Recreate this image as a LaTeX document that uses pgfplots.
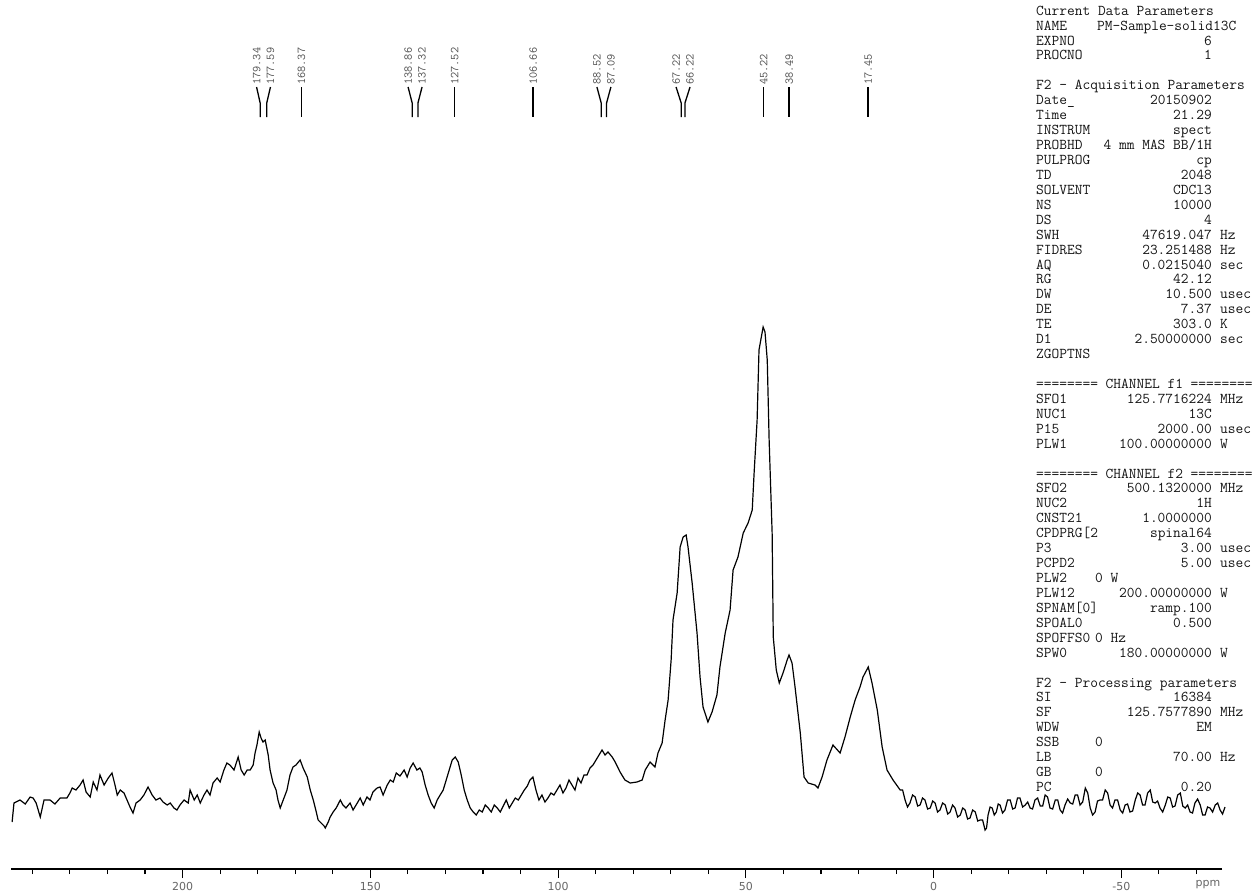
\documentclass[border=0pt]{standalone}
\usepackage{pgfplots}
\pgfplotsset{compat=1.18}
\usepackage{fontspec}
\newfontfamily\tickfont{DejaVu Sans}
\tikzset{pp/.style={inner sep=0pt, font=\fontsize{15}{15}\selectfont\ttfamily, text=black!92}}
\newcommand\PN[2]{\node[pp, anchor=base west] at (1036pt,{-15.2pt-#1*14.93pt}) {#2};}
\newcommand\PV[2]{\node[pp, anchor=base east] at (1212pt,{-15.2pt-#1*14.93pt}) {#2};}
\newcommand\PU[2]{\node[pp, anchor=base west] at (1220pt,{-15.2pt-#1*14.93pt}) {#2};}
\newcommand\PL[2]{\node[pp, anchor=base west] at (1095pt,{-15.2pt-#1*14.93pt}) {#2};}
\begin{document}
\begin{tikzpicture}
\useasboundingbox (0pt,0pt) rectangle (1252pt,-894pt);
\begin{axis}[
  at={(11pt,-869pt)}, anchor=south west,
  scale only axis, width=1211pt, height=809pt,
  x dir=reverse, xmin=-76.8, xmax=245.7, ymin=0, ymax=809,
  axis x line=bottom, axis y line=none,
  x axis line style={-, line width=1.3pt},
  xtick={200,150,100,50,0,-50},
  xticklabels={200,150,100,50,0,-50},
  minor xtick={-70,-60,...,240},
  tick align=outside,
  major tick length=9pt, minor tick length=5pt,
  every tick/.style={black, line width=1.1pt},
  xticklabel style={font=\fontsize{11}{11}\selectfont\tickfont, text=black!60, yshift=-1pt},
  clip=false,
]
\addplot[black, line width=1.2pt] table {
ppm h
245.4 47
244.9 66
243.3 69
241.9 65
240.6 72
239.8 71
239.0 66
237.9 52
236.9 69
235.3 69
234.0 65
232.6 71
230.8 71
230.0 76
229.4 81
228.4 79
227.3 84
226.5 89
225.7 77
224.6 72
223.8 87
222.8 79
222.0 94
220.9 84
219.8 91
218.8 96
218.0 84
217.4 74
216.6 79
215.6 76
214.8 69
214.0 62
213.2 56
212.4 66
211.3 69
210.3 74
209.2 82
208.1 74
207.1 69
206.0 71
205.2 67
204.1 64
203.3 66
202.3 61
201.5 59
200.7 64
199.6 69
198.5 66
198.0 79
196.9 69
196.1 74
195.3 66
194.3 74
193.5 79
192.7 74
191.9 86
190.8 91
190.0 87
189.0 99
188.2 106
187.4 104
186.3 99
185.2 112
184.4 99
183.6 94
182.8 99
182.0 99
181.2 104
180.7 116
180.2 124
179.6 137
179.1 131
178.6 127
178.0 129
177.2 114
176.7 99
175.9 86
175.1 79
174.6 69
174.0 61
173.2 69
172.7 74
172.2 79
171.4 94
170.6 102
169.8 104
168.7 109
167.9 101
166.8 92
166.0 79
165.2 69
164.4 57
163.9 49
163.1 46
162.3 43
162.0 41
161.2 47
160.7 52
159.9 57
159.1 61
158.0 69
157.3 64
156.5 61
155.4 66
154.6 59
153.8 64
152.7 71
151.9 64
150.9 72
150.1 69
149.3 77
148.2 81
147.4 82
146.6 74
145.5 84
144.7 89
143.9 87
143.1 96
142.1 93
141.0 99
140.2 92
139.4 101
138.6 106
137.6 99
136.8 101
136.2 97
135.4 84
134.6 74
133.8 66
133.0 61
132.2 69
131.4 74
130.6 79
129.8 89
129.0 99
128.2 109
127.4 112
126.6 107
125.8 94
125.0 79
124.2 69
123.4 61
122.6 57
121.8 54
121.0 59
120.2 57
119.4 64
118.6 61
117.8 57
117.0 64
116.2 61
115.4 57
114.6 63
113.8 69
113.0 61
112.2 66
111.4 71
110.6 69
109.8 74
109.0 79
108.2 83
107.5 89
106.7 92
105.9 79
105.1 69
104.3 74
103.5 67
102.7 71
101.9 76
101.1 74
100.3 79
99.5 84
98.7 76
97.9 81
97.1 89
96.3 84
95.5 79
94.7 91
93.9 86
93.1 94
92.3 94
91.5 101
90.7 104
89.9 109
89.1 114
88.3 119
87.5 114
86.7 117
85.6 112
84.8 107
83.5 97
82.2 89
80.8 86
79.0 87
77.6 89
76.8 99
75.5 107
74.2 102
73.4 116
72.3 126
71.5 149
70.7 169
69.9 209
69.4 249
68.3 276
67.5 322
66.7 332
65.9 334
65.4 322
64.3 286
63.0 236
62.2 192
61.4 162
60.1 147
59.0 157
57.7 174
56.9 202
55.5 236
54.2 259
53.4 299
52.1 312
50.7 336
49.4 346
48.3 359
47.8 396
47.0 449
46.5 519
45.4 542
44.9 537
44.3 509
43.8 429
43.0 336
42.7 232
41.9 199
41.1 186
40.1 196
39.0 209
38.5 214
37.7 206
36.9 182
35.5 136
34.5 92
33.4 86
31.6 84
30.8 81
29.7 92
28.4 109
26.8 124
24.9 116
23.6 132
22.2 152
20.9 169
19.6 182
18.8 192
17.4 202
16.4 186
15.0 159
13.7 122
12.4 99
10.8 89
8.9 79
8.25 79
7.6 69
6.95 62
6.3 66
5.6 74
4.9 72
4.25 63
3.6 64
2.95 71
2.3 69
1.6 60
0.9 61
0.25 68
-0.4 66
-1.05 57
-1.7 59
-2.4 66
-3.1 64
-3.75 55
-4.4 57
-5.05 64
-5.7 61
-6.4 52
-7.1 54
-7.75 61
-8.4 59
-9.05 50
-9.7 51
-10.4 59
-11.1 57
-11.75 48
-12.4 49
-13.05 49
-13.7 39
-14.1 41
-14.5 54
-15.05 62
-15.6 61
-16.15 54
-16.7 57
-17.2 65
-17.7 64
-18.35 56
-19.0 59
-19.7 69
-20.4 69
-21.05 60
-21.7 61
-22.35 71
-23.0 71
-23.7 62
-24.4 64
-25.05 67
-25.7 61
-26.35 60
-27.0 69
-27.7 71
-28.4 63
-29.05 63
-29.7 74
-30.35 72
-31.0 61
-31.7 60
-32.4 69
-33.05 69
-33.7 59
-34.35 56
-35.0 64
-35.7 70
-36.4 66
-37.05 65
-37.7 74
-38.35 74
-39.0 64
-39.7 67
-40.4 81
-41.05 76
-41.7 61
-42.35 54
-43.0 57
-43.65 68
-44.3 69
-45.0 69
-45.7 79
-46.35 76
-47.0 64
-47.65 61
-48.3 69
-49.0 69
-49.7 59
-50.35 56
-51.0 64
-51.65 65
-52.3 57
-53.0 58
-53.7 69
-54.35 76
-55.0 74
-55.65 64
-56.3 64
-57.0 76
-57.7 79
-58.35 67
-59.0 66
-59.65 68
-60.3 61
-61.0 57
-61.7 64
-62.35 72
-63.0 71
-63.65 62
-64.3 63
-65.0 74
-65.7 76
-66.35 63
-67.0 61
-67.65 64
-68.3 57
-68.95 56
-69.6 66
-70.3 70
-71.0 64
-71.65 54
-72.3 54
-72.95 62
-73.6 61
-74.3 57
-75.0 64
-75.65 66
-76.3 59
-76.95 55
-77.6 62
};
% peak annotations
\tikzset{pl/.style={rotate=90, anchor=west, inner sep=0pt, font=\fontsize{12}{12}\selectfont\ttfamily, text=black!70}}
\draw[line width=1.3pt] (axis cs:180.3,782) -- (axis cs:179.34,766) -- (axis cs:179.34,752);
\draw[line width=1.3pt] (axis cs:176.6,782) -- (axis cs:177.59,766) -- (axis cs:177.59,752);
\node[pl] at (axis cs:180.3,784) {179.34};
\node[pl] at (axis cs:176.6,784) {177.59};
\draw[line width=1.3pt] (axis cs:168.37,782) -- (axis cs:168.37,752);
\node[pl] at (axis cs:168.37,784) {168.37};
\draw[line width=1.3pt] (axis cs:139.95,782) -- (axis cs:138.86,766) -- (axis cs:138.86,752);
\draw[line width=1.3pt] (axis cs:136.23,782) -- (axis cs:137.32,766) -- (axis cs:137.32,752);
\node[pl] at (axis cs:139.95,784) {138.86};
\node[pl] at (axis cs:136.23,784) {137.32};
\draw[line width=1.3pt] (axis cs:127.52,782) -- (axis cs:127.52,752);
\node[pl] at (axis cs:127.52,784) {127.52};
\draw[line width=1.3pt] (axis cs:106.66,782) -- (axis cs:106.66,752);
\node[pl] at (axis cs:106.66,784) {106.66};
\draw[line width=1.3pt] (axis cs:89.66,782) -- (axis cs:88.52,766) -- (axis cs:88.52,752);
\draw[line width=1.3pt] (axis cs:85.94,782) -- (axis cs:87.09,766) -- (axis cs:87.09,752);
\node[pl] at (axis cs:89.66,784) {88.52};
\node[pl] at (axis cs:85.94,784) {87.09};
\draw[line width=1.3pt] (axis cs:68.58,782) -- (axis cs:67.22,766) -- (axis cs:67.22,752);
\draw[line width=1.3pt] (axis cs:64.86,782) -- (axis cs:66.22,766) -- (axis cs:66.22,752);
\node[pl] at (axis cs:68.58,784) {67.22};
\node[pl] at (axis cs:64.86,784) {66.22};
\draw[line width=1.3pt] (axis cs:45.22,782) -- (axis cs:45.22,752);
\node[pl] at (axis cs:45.22,784) {45.22};
\draw[line width=1.3pt] (axis cs:38.49,782) -- (axis cs:38.49,752);
\node[pl] at (axis cs:38.49,784) {38.49};
\draw[line width=1.3pt] (axis cs:17.45,782) -- (axis cs:17.45,752);
\node[pl] at (axis cs:17.45,784) {17.45};
\end{axis}
\node[font=\fontsize{11}{11}\selectfont\tickfont, text=black!60, inner sep=0pt] at (1208pt,-885pt) {ppm};
% parameters
\PN{0}{Current Data Parameters}
\PN{1}{NAME}\node[pp, anchor=base west] at (1097pt,{-15.2pt-1*14.93pt}) {PM-Sample-solid13C};
\PN{2}{EXPNO}\PV{2}{6}
\PN{3}{PROCNO}\PV{3}{1}
\PN{5}{F2 - Acquisition Parameters}
\PN{6}{Date\_}\PV{6}{20150902}
\PN{7}{Time}\PV{7}{21.29}
\PN{8}{INSTRUM}\PV{8}{spect}
\PN{9}{PROBHD}\PV{9}{4 mm MAS BB/1H}
\PN{10}{PULPROG}\PV{10}{cp}
\PN{11}{TD}\PV{11}{2048}
\PN{12}{SOLVENT}\PV{12}{CDCl3}
\PN{13}{NS}\PV{13}{10000}
\PN{14}{DS}\PV{14}{4}
\PN{15}{SWH}\PV{15}{47619.047}\PU{15}{Hz}
\PN{16}{FIDRES}\PV{16}{23.251488}\PU{16}{Hz}
\PN{17}{AQ}\PV{17}{0.0215040}\PU{17}{sec}
\PN{18}{RG}\PV{18}{42.12}
\PN{19}{DW}\PV{19}{10.500}\PU{19}{usec}
\PN{20}{DE}\PV{20}{7.37}\PU{20}{usec}
\PN{21}{TE}\PV{21}{303.0}\PU{21}{K}
\PN{22}{D1}\PV{22}{2.50000000}\PU{22}{sec}
\PN{23}{ZGOPTNS}
\PN{25}{======== CHANNEL f1 ========}
\PN{26}{SFO1}\PV{26}{125.7716224}\PU{26}{MHz}
\PN{27}{NUC1}\PV{27}{13C}
\PN{28}{P15}\PV{28}{2000.00}\PU{28}{usec}
\PN{29}{PLW1}\PV{29}{100.00000000}\PU{29}{W}
\PN{31}{======== CHANNEL f2 ========}
\PN{32}{SFO2}\PV{32}{500.1320000}\PU{32}{MHz}
\PN{33}{NUC2}\PV{33}{1H}
\PN{34}{CNST21}\PV{34}{1.0000000}
\PN{35}{CPDPRG[2}\PV{35}{spinal64}
\PN{36}{P3}\PV{36}{3.00}\PU{36}{usec}
\PN{37}{PCPD2}\PV{37}{5.00}\PU{37}{usec}
\PN{38}{PLW2}\PL{38}{0 W}
\PN{39}{PLW12}\PV{39}{200.00000000}\PU{39}{W}
\PN{40}{SPNAM[0]}\PV{40}{ramp.100}
\PN{41}{SPOAL0}\PV{41}{0.500}
\PN{42}{SPOFFS0}\PL{42}{0 Hz}
\PN{43}{SPW0}\PV{43}{180.00000000}\PU{43}{W}
\PN{45}{F2 - Processing parameters}
\PN{46}{SI}\PV{46}{16384}
\PN{47}{SF}\PV{47}{125.7577890}\PU{47}{MHz}
\PN{48}{WDW}\PV{48}{EM}
\PN{49}{SSB}\PL{49}{0}
\PN{50}{LB}\PV{50}{70.00}\PU{50}{Hz}
\PN{51}{GB}\PL{51}{0}
\PN{52}{PC}\PV{52}{0.20}
\end{tikzpicture}
\end{document}
